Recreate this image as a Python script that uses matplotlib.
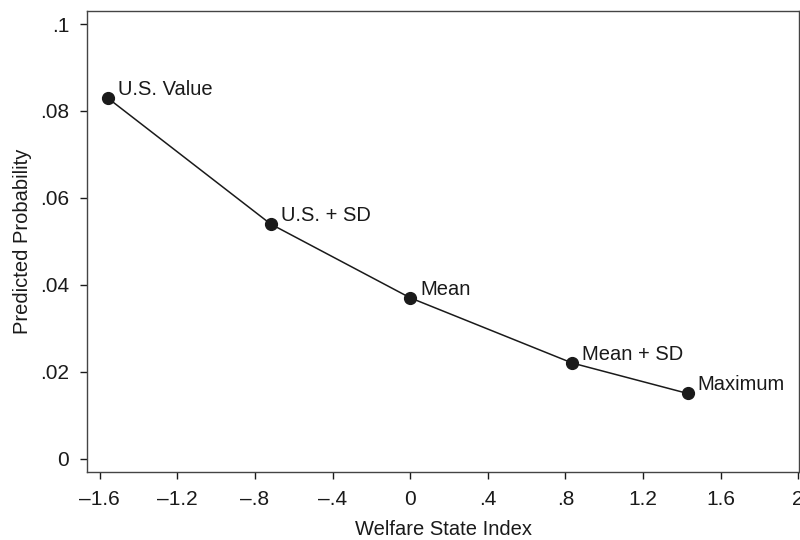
import matplotlib.pyplot as plt

plt.rcParams['font.family'] = ['Liberation Sans', 'DejaVu Sans']

# points
labels = ["U.S. Value", "U.S. + SD", "Mean", "Mean + SD", "Maximum"]
x_vals = [-1.56, -0.72, 0.0, 0.835, 1.43]
y_vals = [0.083, 0.054, 0.037, 0.022, 0.015]

x_ticks = [-1.6, -1.2, -0.8, -0.4, 0, 0.4, 0.8, 1.2, 1.6, 2]
x_ticklabels = ["\u20131.6", "\u20131.2", "\u2013.8", "\u2013.4", "0", ".4", ".8", "1.2", "1.6", "2"]
y_ticks = [0, 0.02, 0.04, 0.06, 0.08, 0.1]
y_ticklabels = ["0", ".02", ".04", ".06", ".08", ".1"]

fig = plt.figure(figsize=(8, 5.4), dpi=100)
ax = fig.add_axes([0.109, 0.1265, 0.89, 0.854])

ax.plot(x_vals, y_vals, color="#1a1a1a", lw=1.1, marker="o", ms=8.5,
        markerfacecolor="#1a1a1a", markeredgecolor="#1a1a1a")
for lab, x, y in zip(labels, x_vals, y_vals):
    ax.annotate(lab, (x, y), xytext=(10, 3), textcoords="offset pixels",
                fontsize=14.5, va="baseline", ha="left", color="#1a1a1a")

ax.set_xlim(-1.665, 2.005)
ax.set_ylim(-0.003, 0.1031)
ax.set_xticks(x_ticks)
ax.set_xticklabels(x_ticklabels)
ax.set_yticks(y_ticks)
ax.set_yticklabels(y_ticklabels)
ax.tick_params(direction="out", length=5, width=1, labelsize=15, colors="#1a1a1a", pad=8)
for s in ax.spines.values():
    s.set_color("#444444")
    s.set_linewidth(1)

ax.set_xlabel("Welfare State Index", fontsize=14.5, color="#1a1a1a", labelpad=8)
ax.set_ylabel("Predicted Probability", fontsize=14.5, color="#1a1a1a", labelpad=6)

fig.savefig("out.png", dpi=100)
